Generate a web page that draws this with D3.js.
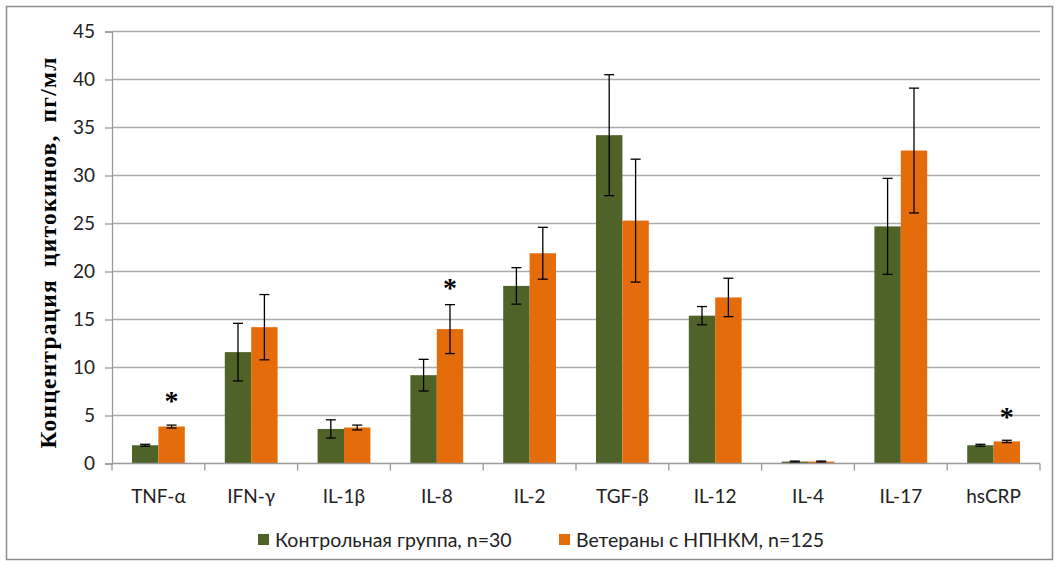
<!DOCTYPE html>
<html>
<head>
<meta charset="utf-8">
<script src="https://cdn.jsdelivr.net/npm/d3@7"></script>
<style>
  body { margin: 0; background: #fff; }
  svg { display: block; }
</style>
</head>
<body>
<script>
const categories = ['TNF-α', 'IFN-γ', 'IL-1β', 'IL-8', 'IL-2', 'TGF-β', 'IL-12', 'IL-4', 'IL-17', 'hsCRP']
const seriesNames = ['Контрольная группа, n=30', 'Ветераны с НПНКМ, n=125']
const control = [1.9, 11.6, 3.6, 9.2, 18.5, 34.2, 15.4, 0.2, 24.7, 1.9]
const controlErr = [0.1, 3.0, 0.95, 1.65, 1.9, 6.3, 0.95, 0.05, 5.0, 0.1]
const veterans = [3.85, 14.2, 3.75, 14.0, 21.9, 25.3, 17.3, 0.2, 32.6, 2.3]
const veteransErr = [0.15, 3.4, 0.25, 2.55, 2.7, 6.4, 2.0, 0.05, 6.5, 0.12]
// significance marks: category -> height of the asterisk
const starCats = ['TNF-α', 'IL-8', 'hsCRP']
const starLevel = [7.0, 18.8, 5.4]
const yTicks = [0, 5, 10, 15, 20, 25, 30, 35, 40, 45]

const width = 1055, height = 567
const colors = ['#4f6228', '#e46c0a']
const plotLeft = 112, plotRight = 1040, plotTop = 31.5, plotBottom = 463.5
const labelFont = 'Lato, "Open Sans", sans-serif'

const svg = d3.select('body').append('svg')
  .attr('width', width)
  .attr('height', height)

// outer frame
svg.append('rect')
  .attr('x', 6.5).attr('y', 6.5)
  .attr('width', 1046).attr('height', 553)
  .attr('fill', 'none')
  .attr('stroke', '#8c8c8c')
  .attr('stroke-width', 1.5)

const x = d3.scaleBand().domain(categories).range([plotLeft, plotRight])
const x1 = d3.scaleBand().domain([0, 1]).range([20, x.bandwidth() - 20])
const y = d3.scaleLinear().domain([0, 45]).range([plotBottom, plotTop])

// gridlines
svg.append('g')
  .selectAll('line')
  .data(yTicks.filter(d => d > 0))
  .enter().append('line')
  .attr('x1', plotLeft).attr('x2', plotRight)
  .attr('y1', d => y(d)).attr('y2', d => y(d))
  .attr('stroke', '#ababab')
  .attr('stroke-width', 1.5)

// y axis
const yAxis = svg.append('g')
  .attr('transform', `translate(${plotLeft},0)`)
  .call(d3.axisLeft(y).tickValues(yTicks).tickSize(7).tickPadding(10))
yAxis.select('.domain').attr('stroke', '#9a9a9a').attr('stroke-width', 1.3)
yAxis.selectAll('.tick line').attr('stroke', '#9a9a9a').attr('stroke-width', 1.3)
yAxis.selectAll('text')
  .style('font-family', labelFont)
  .style('font-size', '19px')
  .attr('fill', '#222')

// bars
const groups = svg.append('g')
  .selectAll('g')
  .data(categories)
  .enter().append('g')
  .attr('transform', d => `translate(${x(d)},0)`)

const rows = categories.map((c, i) => [
  { v: control[i], e: controlErr[i], s: 0 },
  { v: veterans[i], e: veteransErr[i], s: 1 }
])

groups.selectAll('rect')
  .data((d, i) => rows[i])
  .enter().append('rect')
  .attr('x', d => x1(d.s))
  .attr('y', d => y(d.v))
  .attr('width', x1.bandwidth())
  .attr('height', d => y(0) - y(d.v))
  .attr('fill', d => colors[d.s])

// error bars
const eb = groups.selectAll('g.err')
  .data((d, i) => rows[i])
  .enter().append('g')
  .attr('class', 'err')
  .attr('stroke', '#000')
  .attr('stroke-width', 1.3)
eb.append('line')
  .attr('x1', d => x1(d.s) + x1.bandwidth() / 2)
  .attr('x2', d => x1(d.s) + x1.bandwidth() / 2)
  .attr('y1', d => y(d.v + d.e))
  .attr('y2', d => y(d.v - d.e))
eb.selectAll('line.cap')
  .data(d => [d.v + d.e, d.v - d.e].map(val => ({ val, s: d.s })))
  .enter().append('line')
  .attr('class', 'cap')
  .attr('x1', d => x1(d.s) + x1.bandwidth() / 2 - 5)
  .attr('x2', d => x1(d.s) + x1.bandwidth() / 2 + 5)
  .attr('y1', d => y(d.val))
  .attr('y2', d => y(d.val))

// x axis
const xAxis = svg.append('g')
  .attr('transform', `translate(0,${plotBottom})`)
xAxis.append('line')
  .attr('x1', plotLeft).attr('x2', plotRight)
  .attr('stroke', '#9a9a9a').attr('stroke-width', 1.5)
xAxis.selectAll('line.tk')
  .data(categories.concat(['end']))
  .enter().append('line')
  .attr('class', 'tk')
  .attr('x1', d => d === 'end' ? plotRight : x(d))
  .attr('x2', d => d === 'end' ? plotRight : x(d))
  .attr('y1', 0).attr('y2', 7)
  .attr('stroke', '#9a9a9a').attr('stroke-width', 1.3)
xAxis.selectAll('text')
  .data(categories)
  .enter().append('text')
  .attr('x', d => x(d) + x.bandwidth() / 2)
  .attr('y', 39)
  .attr('text-anchor', 'middle')
  .style('font-family', labelFont)
  .style('font-size', '19px')
  .attr('fill', '#222')
  .text(d => d)

// asterisks
svg.append('g')
  .selectAll('text')
  .data(starCats)
  .enter().append('text')
  .attr('x', d => x(d) + x1(1) + x1.bandwidth() / 2)
  .attr('y', (d, i) => y(starLevel[i]) + 14)
  .attr('text-anchor', 'middle')
  .style('font-family', '"Liberation Serif", "DejaVu Serif", serif')
  .style('font-weight', 'bold')
  .style('font-size', '28px')
  .text('*')

// y title
svg.append('text')
  .attr('transform', `translate(56,${(plotTop + plotBottom) / 2 + 5}) rotate(-90)`)
  .attr('text-anchor', 'middle')
  .style('font-family', '"Liberation Serif", "Times New Roman", serif')
  .style('font-weight', 'bold')
  .style('font-size', '23.5px')
  .style('letter-spacing', '1.2px')
  .style('word-spacing', '5px')
  .text('Концентрация цитокинов, пг/мл')

// legend
const legendX = [258, 559]
const legend = svg.append('g')
  .selectAll('g')
  .data(seriesNames)
  .enter().append('g')
  .attr('transform', (d, i) => `translate(${legendX[i]},540)`)
legend.append('rect')
  .attr('x', 0).attr('y', -6)
  .attr('width', 11).attr('height', 11)
  .attr('fill', (d, i) => colors[i])
legend.append('text')
  .attr('x', 17).attr('y', 7)
  .style('font-family', labelFont)
  .style('font-size', '19.5px')
  .attr('fill', '#222')
  .text(d => d)
</script>
</body>
</html>
